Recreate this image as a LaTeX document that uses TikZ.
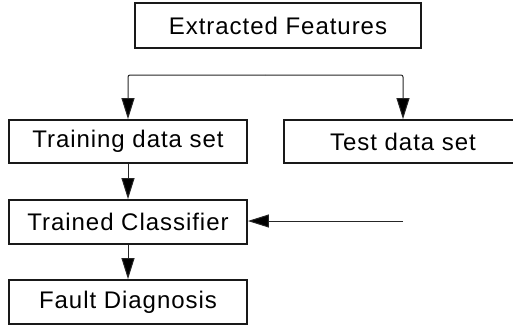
\documentclass[tikz,border=0pt]{standalone}
\usepackage{fontspec}
\setmainfont{Liberation Sans}
\usetikzlibrary{arrows.meta}
\begin{document}
\begin{tikzpicture}[x=1pt,y=-1pt,
  box/.style={draw=black!90,line width=1.8pt,minimum width=238pt,minimum height=43pt,inner sep=0pt,font=\fontsize{24}{28}\selectfont\addfontfeatures{LetterSpace=4}},
  tip/.style={-{Triangle[width=13pt,length=21pt,fill=black]}},
  conn/.style={draw=black!85,line width=1pt,tip,rounded corners=2pt}]
\useasboundingbox (0,0) rectangle (513,330);
\node[box,minimum width=286pt,minimum height=45pt] (ext) at (278,25.5) {Extracted Features};
\node[box] (train) at (128,141.5) {Training data set};
\node[box] (test) at (403,141.5) {Test data set};
\node[box,minimum height=44pt] (cls) at (128,222) {Trained Classifier};
\node[box,minimum height=44pt] (fault) at (128,302) {Fault Diagnosis};
\coordinate (split) at (265,75);
\coordinate (src) at (403,221);
\draw[conn] (split) -| (train.north);
\draw[conn] (split) -| (test.north);
\draw[conn] (train) -- (cls);
\draw[conn] (cls) -- (fault);
\draw[conn] (src) -- (cls.east |- src);
\end{tikzpicture}
\end{document}
